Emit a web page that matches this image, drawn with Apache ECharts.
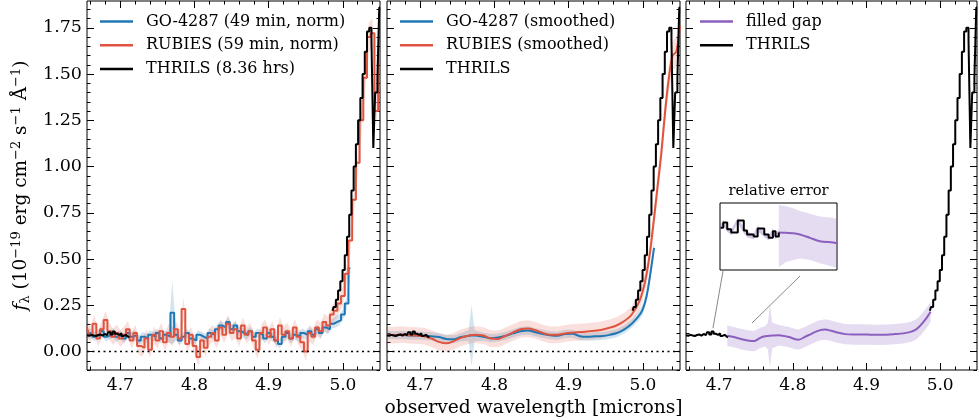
<!DOCTYPE html>
<html><head><meta charset="utf-8">
<script src="https://cdn.jsdelivr.net/npm/echarts@6/dist/echarts.min.js"></script>
<style>html,body{margin:0;padding:0;background:#fff}#c{width:979px;height:420px}</style>
</head><body><div id="c"></div>
<script>
// ---------------- data ----------------
const xMajor = [4.7, 4.8, 4.9, 5.0];
const xMinor = [4.66,4.68,4.70,4.72,4.74,4.76,4.78,4.80,4.82,4.84,4.86,4.88,4.90,4.92,4.94,4.96,4.98,5.00,5.02,5.04];
const yMajor = [0, 0.25, 0.5, 0.75, 1.0, 1.25, 1.5, 1.75];
const yMinor = [-0.1,-0.05,0,0.05,0.1,0.15,0.2,0.25,0.3,0.35,0.4,0.45,0.5,0.55,0.6,0.65,0.7,0.75,0.8,0.85,0.9,0.95,1.0,1.05,1.1,1.15,1.2,1.25,1.3,1.35,1.4,1.45,1.5,1.55,1.6,1.65,1.7,1.75,1.8,1.85];
const zeroLevel = [[4.655, 0], [5.05, 0]];

const rawWave = [4.655,4.660,4.665,4.670,4.675,4.680,4.685,4.690,4.695,4.700,
4.705,4.710,4.715,4.720,4.725,4.730,4.735,4.740,4.745,4.750,
4.755,4.760,4.765,4.770,4.775,4.780,4.785,4.790,4.795,4.800,
4.805,4.810,4.815,4.820,4.825,4.830,4.835,4.840,4.845,4.850,
4.855,4.860,4.865,4.870,4.875,4.880,4.885,4.890,4.895,4.900,
4.905,4.910,4.915,4.920,4.925,4.930,4.935,4.940,4.945,4.950,
4.955,4.960,4.965,4.970,4.975,4.980,4.985,4.990,4.995,5.000,
5.005,5.010,5.015,5.020,5.025,5.030,5.035,5.040,5.045,5.050];

const rubiesRaw = [0.13,0.09,0.15,0.07,0.12,0.17,0.11,0.08,0.10,0.07,
0.09,0.12,0.06,0.10,0.03,0.02,0.07,0.01,0.09,0.06,
0.11,0.05,0.10,0.08,0.12,0.07,0.23,0.04,0.09,0.03,
-0.03,0.06,0.02,0.08,0.10,0.06,0.13,0.09,0.15,0.10,
0.12,0.07,0.14,0.09,0.11,0.06,0.01,0.10,0.13,0.08,
0.12,0.06,0.14,0.09,0.11,0.07,0.13,0.08,0.05,0.00,
0.10,0.08,0.13,0.11,0.16,0.14,0.20,0.22,0.26,0.30,
0.42,0.60,0.82,1.02,1.25,1.48,1.70,1.72,1.30,1.60];
const rubiesRawErr = [0.045,0.045,0.05,0.045,0.045,0.05,0.045,0.045,0.045,0.045,
0.045,0.045,0.045,0.045,0.05,0.045,0.05,0.045,0.045,0.045,
0.045,0.045,0.05,0.05,0.045,0.045,0.06,0.05,0.045,0.045,
0.05,0.045,0.045,0.045,0.045,0.045,0.045,0.045,0.05,0.045,
0.045,0.045,0.045,0.045,0.045,0.045,0.05,0.045,0.045,0.045,
0.045,0.045,0.045,0.045,0.045,0.045,0.045,0.045,0.045,0.05,
0.045,0.045,0.045,0.045,0.045,0.045,0.045,0.05,0.05,0.05,
0.05,0.06,0.06,0.06,0.07,0.07,0.08,0.08,0.08,0.08];

const go4287Raw = [0.09,0.10,0.08,0.09,0.11,0.08,0.09,0.10,0.08,0.09,
0.07,0.10,0.08,0.09,0.06,0.08,0.07,0.09,0.08,0.10,
0.07,0.09,0.08,0.21,0.09,0.06,0.08,0.10,0.07,0.06,
0.09,0.08,0.07,0.10,0.09,0.12,0.14,0.13,0.16,0.12,
0.14,0.11,0.10,0.09,0.11,0.08,0.10,0.09,0.07,0.10,
0.08,0.06,0.04,0.08,0.10,0.07,0.09,0.08,0.10,0.09,
0.11,0.09,0.12,0.10,0.13,0.12,0.15,0.16,0.17,0.20,
0.26,0.45];
const go4287RawErr = [0.025,0.025,0.025,0.025,0.025,0.025,0.025,0.025,0.025,0.025,
0.025,0.025,0.025,0.025,0.025,0.025,0.025,0.025,0.025,0.025,
0.025,0.025,0.03,0.17,0.03,0.025,0.025,0.025,0.025,0.025,
0.025,0.025,0.025,0.025,0.025,0.025,0.025,0.025,0.025,0.025,
0.025,0.025,0.025,0.025,0.025,0.025,0.025,0.025,0.025,0.025,
0.025,0.025,0.025,0.025,0.025,0.025,0.025,0.025,0.025,0.025,
0.025,0.025,0.025,0.025,0.025,0.025,0.025,0.03,0.03,0.03,
0.035,0.04];

// THRILS: blue-side segment and red-side segment (gap in between)
const thrilsBlueWave = [4.655,4.658,4.661,4.664,4.667,4.670,4.673,4.676,4.679,4.682,
4.685,4.688,4.691,4.694,4.697,4.700,4.703,4.706,4.709,4.712];
const thrilsBlueFlux = [0.088,0.085,0.090,0.087,0.084,0.089,0.092,0.086,0.095,0.088,
0.104,0.092,0.108,0.096,0.090,0.098,0.084,0.090,0.080,0.076];
const thrilsRedWave = [4.986,4.989,4.992,4.995,4.998,5.001,5.004,5.007,5.010,5.013,
5.016,5.019,5.022,5.025,5.028,5.031,5.034,5.037,5.040,5.042,
5.045,5.048,5.050];
const thrilsRedFlux = [0.22,0.24,0.28,0.33,0.38,0.44,0.52,0.62,0.74,0.87,
1.00,1.12,1.25,1.37,1.50,1.62,1.73,1.75,1.68,1.10,
1.40,1.48,1.86];

const smWave = [4.655,4.665,4.675,4.685,4.695,4.705,4.715,4.725,4.735,4.745,
4.755,4.765,4.769,4.773,4.785,4.795,4.805,4.815,4.825,4.835,
4.845,4.855,4.865,4.875,4.885,4.895,4.905,4.915,4.925,4.935,
4.945,4.955,4.965,4.975,4.985,4.995,5.000,5.005,5.010,5.015,
5.020,5.025,5.030,5.035,5.040,5.045,5.050];
const go4287Smooth = [0.090,0.088,0.090,0.087,0.086,0.085,0.082,0.078,0.068,0.066,
0.078,0.085,0.086,0.086,0.080,0.072,0.076,0.085,0.098,0.110,
0.114,0.104,0.095,0.088,0.085,0.095,0.096,0.083,0.080,0.082,
0.084,0.090,0.100,0.120,0.150,0.195,0.230,0.300,0.420,0.560];
const go4287SmoothErr = [0.022,0.022,0.022,0.022,0.022,0.022,0.022,0.022,0.022,0.022,
0.022,0.03,0.165,0.03,0.022,0.022,0.022,0.022,0.022,0.022,
0.022,0.022,0.022,0.022,0.022,0.022,0.022,0.022,0.022,0.022,
0.022,0.022,0.022,0.022,0.022,0.025,0.028,0.03,0.035,0.04];
const rubiesSmooth = [0.090,0.088,0.092,0.088,0.086,0.083,0.070,0.052,0.044,0.056,
0.075,0.086,0.089,0.091,0.086,0.070,0.068,0.085,0.103,0.120,
0.124,0.115,0.100,0.090,0.090,0.098,0.102,0.105,0.108,0.112,
0.118,0.128,0.142,0.165,0.200,0.270,0.330,0.420,0.550,0.720,
0.900,1.080,1.300,1.480,1.600,1.620,1.760];
const rubiesSmoothErr = [0.045,0.045,0.045,0.045,0.045,0.045,0.045,0.045,0.045,0.045,
0.045,0.045,0.045,0.045,0.045,0.045,0.045,0.045,0.045,0.045,
0.045,0.045,0.045,0.045,0.045,0.045,0.045,0.045,0.045,0.045,
0.045,0.045,0.045,0.045,0.045,0.05,0.05,0.055,0.06,0.06,
0.065,0.07,0.07,0.075,0.08,0.08,0.08];

const gapWave = [4.711,4.720,4.732,4.741,4.748,4.755,4.762,4.766,4.769,4.772,
4.781,4.795,4.802,4.808,4.816,4.826,4.835,4.844,4.852,4.860,
4.871,4.882,4.893,4.905,4.916,4.927,4.938,4.950,4.960,4.967,
4.973,4.979,4.983,4.987];
const gapFlux = [0.085,0.078,0.065,0.058,0.057,0.072,0.082,0.084,0.085,0.086,
0.088,0.078,0.068,0.064,0.078,0.097,0.113,0.119,0.112,0.103,
0.094,0.092,0.092,0.091,0.090,0.091,0.094,0.098,0.106,0.118,
0.140,0.168,0.190,0.215];
const gapErr = [0.055,0.055,0.055,0.055,0.055,0.055,0.055,0.07,0.17,0.07,
0.055,0.055,0.055,0.055,0.055,0.055,0.055,0.055,0.055,0.055,
0.055,0.055,0.055,0.055,0.055,0.055,0.055,0.055,0.055,0.055,
0.055,0.055,0.055,0.055];

// inset: relative error
const insetBlackWave = [4.6556,4.6582,4.6621,4.6660,4.6725,4.6784,4.6816,4.6881,4.6920,4.6985,4.7028,4.7070,4.7096,4.7128];
const insetBlackVal  = [0.63,0.71,0.61,0.56,0.74,0.59,0.53,0.50,0.62,0.53,0.48,0.58,0.50,0.56];
const insetBlackErr  = [0.04,0.04,0.04,0.04,0.04,0.04,0.04,0.04,0.04,0.04,0.04,0.04,0.04,0.04];
const insetGapWave = [4.7128,4.7200,4.7271,4.7336,4.7434,4.7531,4.7661,4.7700];
const insetGapVal  = [0.56,0.555,0.55,0.53,0.48,0.43,0.41,0.40];
const insetGapHi   = [0.97,0.95,0.92,0.88,0.84,0.80,0.78,0.76];
const insetGapLo   = [0.04,0.12,0.15,0.17,0.15,0.10,0.05,0.03];

// ---------------- layout / style ----------------
const X_MIN = 4.655, X_MAX = 5.05, Y_MIN = -0.1, Y_MAX = 1.895;
const FONT = 'DejaVu Serif';
const BLUE = '#1f77b4', RED = '#e0533f', PURPLE = '#8c5fbf', BLACK = '#000000';

const gridBase = {show: true, borderColor: '#000', borderWidth: 1, containLabel: false, outerBoundsMode: 'none'};
const grids = [
  Object.assign({left: 87, top: 1, width: 293, height: 369}, gridBase),
  Object.assign({left: 387, top: 1, width: 293, height: 369}, gridBase),
  Object.assign({left: 686, top: 1, width: 291, height: 369}, gridBase),
  Object.assign({left: 720, top: 203, width: 117, height: 67, backgroundColor: '#fff', z: 3}, gridBase)
];

const xAxes = [], yAxes = [];
const xMain = [], yMain = [];
function tickAxis(isX, g, pos, vals, len, showLabel, extra) {
  const ax = {
    gridIndex: g, type: 'value', position: pos,
    min: isX ? X_MIN : Y_MIN, max: isX ? X_MAX : Y_MAX,
    axisLine: {show: false, onZero: false}, splitLine: {show: false}, minorTick: {show: false},
    axisTick: {show: true, inside: true, length: len, customValues: vals, lineStyle: {color: '#000', width: 1}},
    axisLabel: {show: showLabel, customValues: vals, fontFamily: FONT, fontSize: isX ? 17 : 17.5, color: '#000',
      margin: isX ? 7 : 5, formatter: v => isX ? v.toFixed(1) : v.toFixed(2)}
  };
  Object.assign(ax, extra || {});
  (isX ? xAxes : yAxes).push(ax);
  return (isX ? xAxes : yAxes).length - 1;
}
for (let g = 0; g < 3; g++) {
  const xExtra = g === 1 ? {name: 'observed wavelength [microns]', nameLocation: 'middle', nameGap: 25,
    nameTextStyle: {fontFamily: FONT, fontSize: 18.7, color: '#000'}} : {};
  xMain.push(tickAxis(true, g, 'bottom', xMajor, 7, true, xExtra));
  tickAxis(true, g, 'bottom', xMinor, 3.5, false);
  tickAxis(true, g, 'top', xMajor, 7, false);
  tickAxis(true, g, 'top', xMinor, 3.5, false);
  const yExtra = g === 0 ? {
    name: '{it|f}{sub|λ} (10{sup|−19} erg cm{sup|−2} s{sup|−1} Å{sup|−1})',
    nameLocation: 'middle', nameGap: 55, nameRotate: 90,
    nameTextStyle: {fontFamily: FONT, fontSize: 18.5, color: '#000',
      rich: {it: {fontFamily: FONT, fontSize: 18.5, fontStyle: 'italic', color: '#000'},
             sub: {fontFamily: FONT, fontSize: 13, color: '#000', padding: [9, 0, 0, 0]},
             sup: {fontFamily: FONT, fontSize: 13, color: '#000', padding: [0, 0, 9, 0]}}}
  } : {};
  yMain.push(tickAxis(false, g, 'left', yMajor, 7, g === 0, yExtra));
  tickAxis(false, g, 'left', yMinor, 3.5, false);
  tickAxis(false, g, 'right', yMajor, 7, false);
  tickAxis(false, g, 'right', yMinor, 3.5, false);
}
// inset axes
xAxes.push({gridIndex: 3, type: 'value', min: 4.655, max: 4.77, position: 'top',
  axisLine: {show: false, onZero: false}, axisTick: {show: false}, axisLabel: {show: false}, splitLine: {show: false},
  name: 'relative error', nameLocation: 'middle', nameGap: 4,
  nameTextStyle: {fontFamily: FONT, fontSize: 14.7, color: '#000'}});
const insetX = xAxes.length - 1;
yAxes.push({gridIndex: 3, type: 'value', min: 0, max: 1, show: false, axisLine: {onZero: false}});
const insetY = yAxes.length - 1;

function band(xi, yi, xs, lo, hi, fill, z) {
  return {
    type: 'custom', coordinateSystem: 'cartesian2d', xAxisIndex: xi, yAxisIndex: yi,
    data: [[xs[0], lo[0]]], silent: true, clip: true, z: z,
    renderItem: (params, api) => {
      const pts = [];
      for (let i = 0; i < xs.length; i++) pts.push(api.coord([xs[i], hi[i]]));
      for (let i = xs.length - 1; i >= 0; i--) pts.push(api.coord([xs[i], lo[i]]));
      return {type: 'polygon', shape: {points: pts}, style: {fill: fill}};
    }
  };
}
function errBand(g, xs, ys, es, fill, z) {
  const lo = ys.map((v, i) => v - es[i]);
  const hi = ys.map((v, i) => v + es[i]);
  return band(xMain[g], yMain[g], xs.slice(0, ys.length), lo, hi, fill, z);
}
function line(name, xi, yi, xs, ys, color, width, step, smooth, z, extra) {
  return Object.assign({
    name: name, type: 'line', xAxisIndex: xi, yAxisIndex: yi,
    data: ys.map((v, i) => [xs[i], v]),
    step: step, smooth: smooth, symbol: 'none', showSymbol: false, clip: true,
    lineStyle: {color: color, width: width}, itemStyle: {color: color},
    emphasis: {disabled: true}, z: z
  }, extra || {});
}
function zeroSeries(g) {
  return {type: 'line', xAxisIndex: xMain[g], yAxisIndex: yMain[g], data: zeroLevel, symbol: 'none',
    silent: true, lineStyle: {color: '#000', type: [2, 3.5], width: 1.5}, z: 6};
}
function thrils(name, g) {
  return [
    line(name, xMain[g], yMain[g], thrilsBlueWave, thrilsBlueFlux, BLACK, 2, 'middle', false, 5),
    line(name, xMain[g], yMain[g], thrilsRedWave, thrilsRedFlux, BLACK, 2, 'middle', false, 5)
  ];
}

const series = [
  // panel 1
  errBand(0, rawWave, go4287Raw, go4287RawErr, 'rgba(31,119,180,0.2)', 1),
  errBand(0, rawWave, rubiesRaw, rubiesRawErr, 'rgba(224,83,63,0.18)', 1),
  line('GO-4287 (49 min, norm)', xMain[0], yMain[0], rawWave, go4287Raw, BLUE, 2, 'middle', false, 3),
  line('RUBIES (59 min, norm)', xMain[0], yMain[0], rawWave, rubiesRaw, RED, 2, 'middle', false, 4),
  ...thrils('THRILS (8.36 hrs)', 0),
  zeroSeries(0),
  // panel 2
  errBand(1, smWave, go4287Smooth, go4287SmoothErr, 'rgba(31,119,180,0.2)', 1),
  errBand(1, smWave, rubiesSmooth, rubiesSmoothErr, 'rgba(224,83,63,0.18)', 1),
  line('GO-4287 (smoothed)', xMain[1], yMain[1], smWave, go4287Smooth, BLUE, 2, false, 0.3, 3),
  line('RUBIES (smoothed)', xMain[1], yMain[1], smWave, rubiesSmooth, RED, 2, false, 0.3, 4),
  ...thrils('THRILS', 1),
  zeroSeries(1),
  // panel 3
  errBand(2, gapWave, gapFlux, gapErr, 'rgba(140,95,191,0.22)', 1),
  line('filled gap', xMain[2], yMain[2], gapWave, gapFlux, PURPLE, 2, false, 0.3, 3),
  ...thrils('THRILS', 2),
  // inset
  band(insetX, insetY, insetGapWave, insetGapLo, insetGapHi, 'rgba(140,95,191,0.22)', 6),
  band(insetX, insetY, insetBlackWave, insetBlackVal.map((v, i) => v - insetBlackErr[i]),
       insetBlackVal.map((v, i) => v + insetBlackErr[i]), 'rgba(140,95,191,0.35)', 6),
  line('inset gap', insetX, insetY, insetGapWave, insetGapVal, PURPLE, 2, false, 0.3, 7),
  line('inset THRILS', insetX, insetY, insetBlackWave, insetBlackVal, BLACK, 2, 'end', false, 8)
];

const legendText = {fontFamily: FONT, fontSize: 16, color: '#000', padding: [0, 0, 0, 8], lineHeight: 20};
function legend(left, names) {
  return {left: left, top: 11.5, orient: 'vertical', icon: 'rect', itemWidth: 33, itemHeight: 2.5,
    itemGap: 3.8, selectedMode: false, textStyle: legendText, data: names, padding: 0};
}

const chart = echarts.init(document.getElementById('c'), null, {renderer: 'canvas'});
chart.setOption({
  animation: false,
  backgroundColor: '#fff',
  grid: grids,
  xAxis: xAxes,
  yAxis: yAxes,
  legend: [
    legend(100, ['GO-4287 (49 min, norm)', 'RUBIES (59 min, norm)', 'THRILS (8.36 hrs)']),
    legend(400, ['GO-4287 (smoothed)', 'RUBIES (smoothed)', 'THRILS']),
    legend(700, ['filled gap', 'THRILS'])
  ],
  graphic: [
    {type: 'line', shape: {x1: 723, y1: 271, x2: 713, y2: 328}, style: {stroke: '#888', lineWidth: 1}, z: 10},
    {type: 'line', shape: {x1: 800, y1: 276, x2: 752, y2: 323}, style: {stroke: '#888', lineWidth: 1}, z: 10}
  ],
  series: series
});
</script></body></html>
